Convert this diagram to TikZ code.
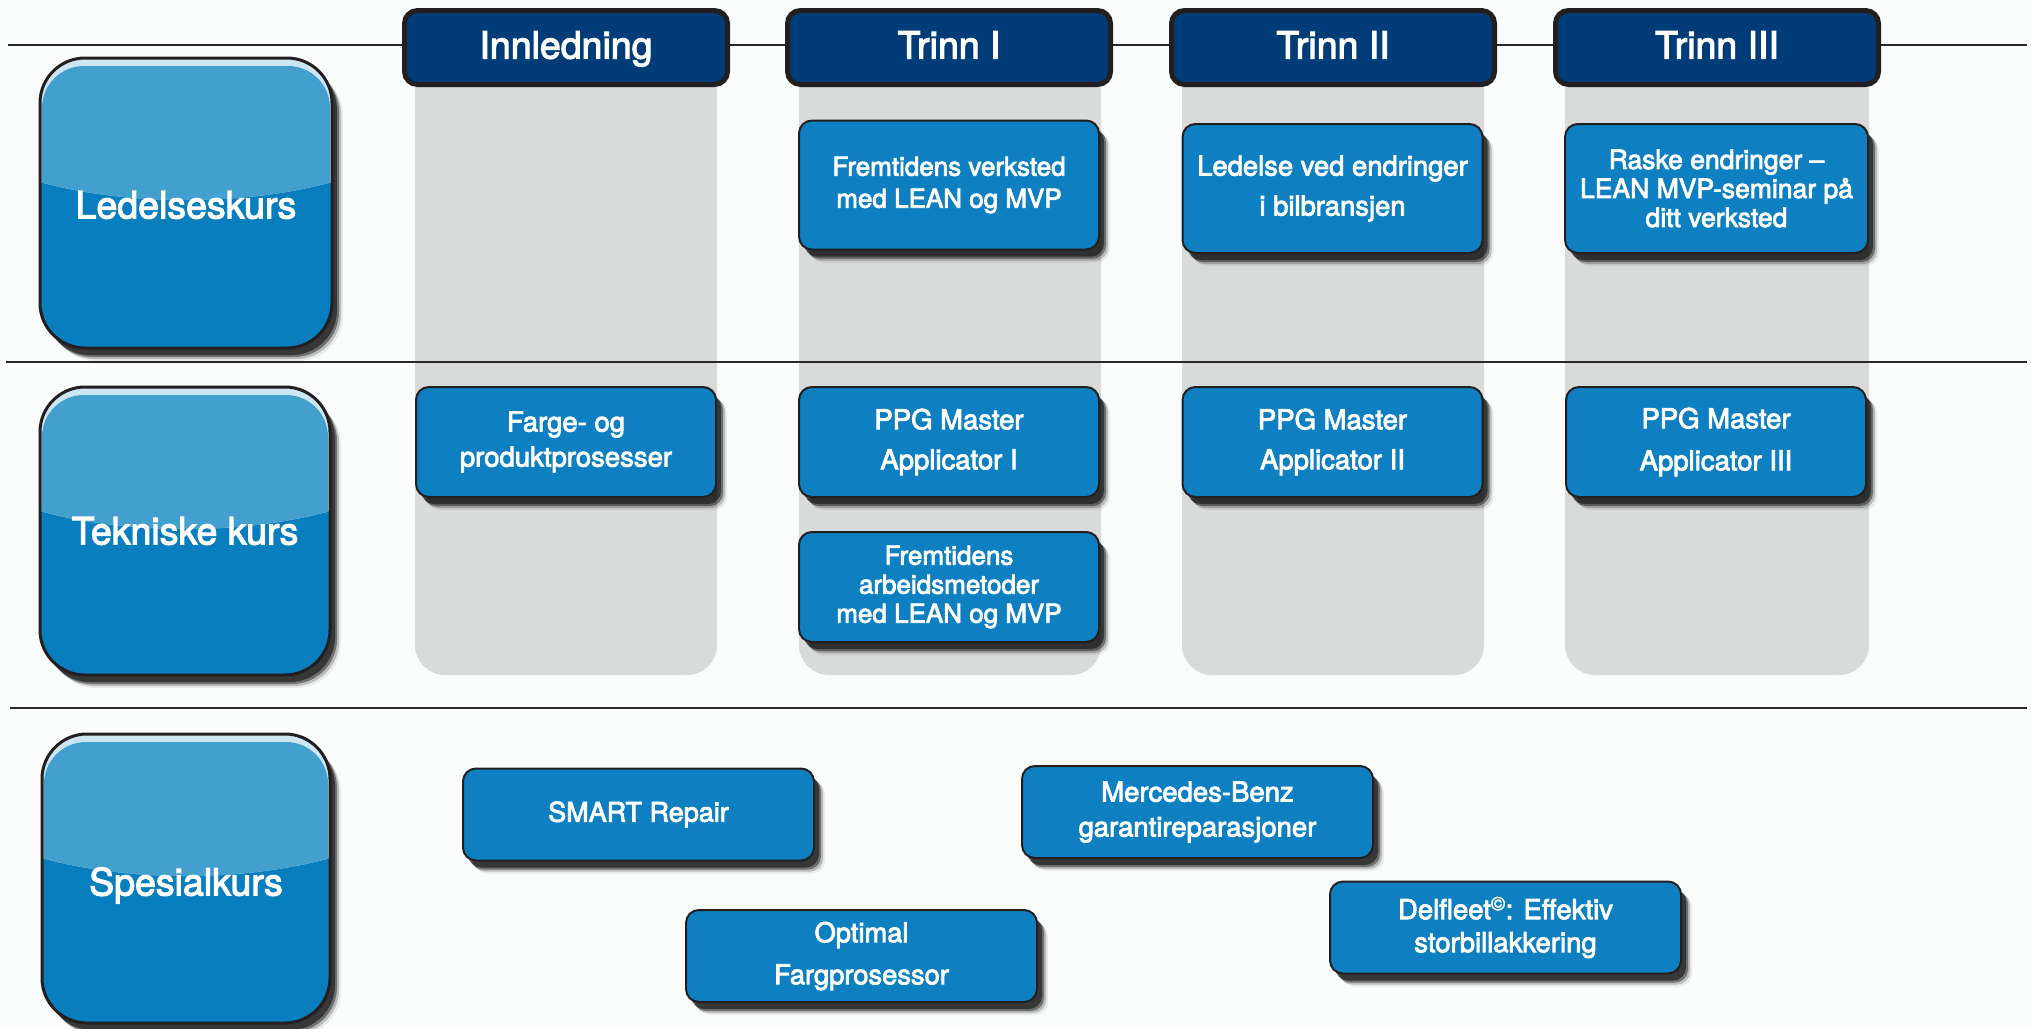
\documentclass[tikz,border=0pt]{standalone}
\usepackage{fontspec}
\setmainfont{TeX Gyre Heros}[RawFeature={embolden=3}]
\usetikzlibrary{shadows}
\definecolor{navy}{RGB}{0,61,120}
\definecolor{boxblue}{RGB}{14,128,193}
\definecolor{catlow}{RGB}{8,126,190}
\definecolor{cattop}{RGB}{66,159,206}
\definecolor{cathl}{RGB}{206,230,243}
\definecolor{panelgray}{RGB}{217,218,218}
\definecolor{edge}{RGB}{35,31,32}
\definecolor{rulecol}{RGB}{40,40,40}
\definecolor{bg}{RGB}{251,252,252}
\tikzset{
  softshadow/.style={
    general shadow={shadow xshift=11pt, shadow yshift=-13pt, fill=black, opacity=0.07},
    general shadow={shadow xshift=9pt, shadow yshift=-11pt, fill=black, opacity=0.2},
    general shadow={shadow xshift=7pt, shadow yshift=-9pt, fill=black, opacity=0.4},
    general shadow={shadow xshift=5pt, shadow yshift=-7pt, fill=black, opacity=0.5},
  },
  header/.style={draw=edge, line width=5pt, fill=navy, rounded corners=13pt,
    text=white, font=\fontsize{37.5}{45}\selectfont, minimum width=323pt,
    minimum height=74pt, inner sep=0pt, text height=27pt, text depth=5pt},
  course/.style={draw=edge, line width=2pt, fill=boxblue, rounded corners=13pt,
    text=white, align=center, inner sep=0pt, softshadow},
  lrow/.style={course, minimum width=300pt, minimum height=129pt},
  trow/.style={course, minimum width=300pt, minimum height=110pt},
  srow/.style={course, minimum width=351pt, minimum height=92pt},
  cattext/.style={text=white, font=\fontsize{37.5}{45}\selectfont, inner sep=0pt},
  hrule/.style={draw=rulecol, line width=2.5pt},
  panel/.style={fill=panelgray, rounded corners=30pt},
}
\newcommand\catbox[7]{%
  \path[rounded corners=45pt, softshadow, fill=catlow] (#2,#3) rectangle (#4,#5);
  \begin{scope}
    \clip[rounded corners=45pt] (#2,#3) rectangle (#4,#5);
    \fill[cathl] (#2,#3) -- (#4,#3) -- (#4,{#3+124})
      .. controls ({#4-0.3*(#4-#2)},{#3+148}) and ({#2+0.3*(#4-#2)},{#3+148}) .. (#2,{#3+124}) -- cycle;
    \clip (#2,#3) -- (#4,#3) -- (#4,{#3+124})
      .. controls ({#4-0.3*(#4-#2)},{#3+148}) and ({#2+0.3*(#4-#2)},{#3+148}) .. (#2,{#3+124}) -- cycle;
    \fill[cattop, rounded corners=42pt] ({#2+2},{#3+8}) rectangle ({#4-2},{#3+220});
  \end{scope}
  \draw[edge, line width=3pt, rounded corners=45pt] (#2,#3) rectangle (#4,#5);
  \node[cattext] (#1) at ({(#2+#4)/2},{(#3+#5)/2+#7}) {#6};
}
\begin{document}
\begin{tikzpicture}[x=1pt, y=-1pt]
\useasboundingbox (0,0) rectangle (2031,1028);
\fill[bg] (0,0) rectangle (2031,1028);

% column panels
\path[panel] (415,20) rectangle (717,675);
\path[panel] (799,20) rectangle (1101,675);
\path[panel] (1182,20) rectangle (1484,675);
\path[panel] (1565,20) rectangle (1869,675);

% horizontal rules
\coordinate (r1a) at (8,45);   \coordinate (r1b) at (2027,45);
\coordinate (r2a) at (6,362);  \coordinate (r2b) at (2027,362);
\coordinate (r3a) at (10,708); \coordinate (r3b) at (2027,708);
\draw[hrule] (r1a) -- (r1b);
\draw[hrule] (r2a) -- (r2b);
\draw[hrule] (r3a) -- (r3b);

% headers
\node[header] (h0) at (566,47.5) {Innledning};
\node[header] (h1) at (949,47.5) {Trinn I};
\node[header] (h2) at (1333,47.5) {Trinn II};
\node[header] (h3) at (1717,47.5) {Trinn III};

% category boxes
\catbox{cat1}{40}{58}{332}{348}{Ledelseskurs}{2}
\catbox{cat2}{40}{387}{330}{675}{Tekniske kurs}{0}
\catbox{cat3}{42}{734}{330}{1023}{Spesialkurs}{7}

% Ledelseskurs row
\node[lrow, font=\fontsize{26}{32}\selectfont] (l1) at (949,185) {Fremtidens verksted\\med LEAN og MVP};
\node[lrow, font=\fontsize{27.4}{40}\selectfont] (l2) at (1332.5,188.5) {Ledelse ved endringer\\i bilbransjen};
\node[lrow, minimum width=303pt, font=\fontsize{26.5}{29}\selectfont] (l3) at (1716.5,188.5) {Raske endringer –\\LEAN MVP-seminar på\\ditt verksted};

% Tekniske row
\node[trow, font=\fontsize{27.5}{35}\selectfont] (t0) at (566,442) {Farge- og\\produktprosesser};
\node[trow, font=\fontsize{27.5}{40}\selectfont] (t1) at (949,442) {PPG Master\\Applicator I};
\node[trow, font=\fontsize{27.5}{40}\selectfont] (t2) at (1332.5,442) {PPG Master\\Applicator II};
\node[trow, font=\fontsize{27.5}{42}\selectfont] (t3) at (1716,442) {PPG Master\\Applicator III};
\node[trow, font=\fontsize{26}{29}\selectfont] (t4) at (949,587) {Fremtidens\\arbeidsmetoder\\med LEAN og MVP};

% Spesialkurs row
\node[srow, font=\fontsize{27}{33}\selectfont] (s1) at (638.5,814.5) {SMART Repair};
\node[srow, font=\fontsize{27.3}{42}\selectfont] (s2) at (861.5,956) {Optimal\\Fargprosessor};
\node[srow, font=\fontsize{27.5}{35}\selectfont] (s3) at (1197.5,812) {Mercedes-Benz\\garantireparasjoner};
\node[srow, font=\fontsize{27.5}{33}\selectfont] (s4) at (1505.5,927.5) {Delfleet\textsuperscript{©}: Effektiv\\storbillakkering};
\end{tikzpicture}
\end{document}
